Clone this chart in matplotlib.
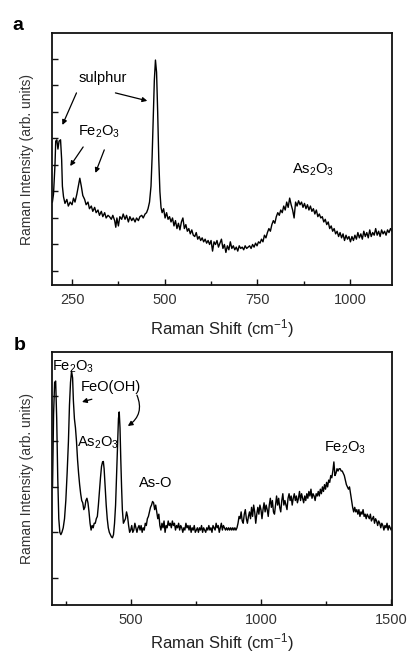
import matplotlib
matplotlib.use("Agg")
import matplotlib.pyplot as plt
from matplotlib.ticker import MultipleLocator, NullFormatter

plt.rcParams['font.family'] = ['Liberation Sans', 'DejaVu Sans']
plt.rcParams['mathtext.default'] = 'regular'

# panel a spectrum
shift_a = [197, 200, 204, 206, 209, 212, 215, 219, 222, 224,
           227, 231, 236, 240, 245, 250, 254, 258, 263, 267,
           271, 275, 279, 284, 288, 293, 297, 302, 306, 311,
           315, 320, 324, 329, 333, 338, 342, 347, 351, 356,
           360, 365, 368, 371, 375, 379, 384, 388, 393, 397,
           402, 406, 411, 415, 420, 424, 429, 433, 438, 442,
           447, 451, 455, 459, 463, 466, 469, 472, 475, 478,
           481, 484, 487, 490, 493, 497, 501, 505, 509, 513,
           517, 521, 525, 529, 533, 537, 541, 545, 549, 553,
           557, 561, 565, 569, 573, 577, 581, 585, 589, 593,
           597, 601, 605, 609, 613, 617, 621, 625, 629, 633,
           637, 641, 645, 649, 653, 657, 661, 665, 669, 673,
           677, 681, 685, 689, 693, 697, 701, 705, 709, 713,
           717, 721, 725, 729, 733, 737, 741, 745, 749, 753,
           757, 761, 765, 769, 773, 777, 781, 785, 789, 793,
           797, 801, 805, 809, 813, 817, 821, 825, 829, 833,
           837, 841, 845, 849, 853, 857, 861, 865, 869, 873,
           877, 881, 885, 889, 893, 897, 901, 905, 909, 913,
           917, 921, 925, 929, 933, 937, 941, 945, 949, 953,
           957, 961, 965, 969, 973, 977, 981, 985, 989, 993,
           997, 1001, 1005, 1009, 1013, 1017, 1021, 1025, 1029, 1033,
           1037, 1041, 1045, 1049, 1053, 1057, 1061, 1065, 1069, 1073,
           1077, 1081, 1085, 1089, 1093, 1097, 1101, 1105, 1109, 1113]
intensity_a = [3.6, 3.9, 5.0, 5.9, 5.95, 5.6, 5.9, 5.95, 5.2, 4.2,
               3.8, 3.55, 3.7, 3.45, 3.6, 3.5, 3.75, 3.6, 3.9, 4.2,
               4.5, 4.2, 3.85, 3.7, 3.5, 3.6, 3.35, 3.45, 3.25, 3.4,
               3.2, 3.3, 3.1, 3.25, 3.05, 3.2, 3.0, 3.1, 3.05, 2.95,
               3.1, 2.9, 2.65, 3.0, 2.7, 3.05, 2.95, 3.15, 2.95, 3.1,
               2.85, 3.05, 2.9, 3.0, 2.85, 3.0, 2.9, 3.05, 3.1, 3.0,
               3.15, 3.2, 3.35, 3.6, 4.2, 5.3, 6.8, 8.2, 8.96, 8.5,
               7.0, 5.2, 4.0, 3.4, 3.2, 3.35, 3.0, 3.2, 2.95, 3.05,
               2.85, 3.0, 2.7, 2.9, 2.6, 2.8, 2.55, 2.85, 3.0, 2.6,
               2.75, 2.5, 2.6, 2.4, 2.55, 2.35, 2.3, 2.45, 2.2, 2.3,
               2.15, 2.25, 2.1, 2.2, 2.05, 2.15, 2.0, 2.15, 1.75, 2.1,
               2.0, 2.15, 1.9, 2.05, 2.2, 1.85, 2.0, 1.7, 1.95, 1.8,
               2.1, 1.85, 1.95, 1.8, 1.9, 1.75, 1.95, 1.85, 1.9, 1.8,
               1.95, 1.85, 1.9, 1.95, 1.85, 2.0, 1.9, 2.05, 1.95, 2.1,
               2.05, 2.2, 2.1, 2.35, 2.25, 2.45, 2.6, 2.5, 2.75, 2.9,
               2.8, 3.05, 3.2, 3.1, 3.3, 3.2, 3.45, 3.3, 3.6, 3.4,
               3.75, 3.5, 3.3, 3.0, 3.6, 3.45, 3.65, 3.5, 3.6, 3.4,
               3.55, 3.35, 3.5, 3.3, 3.45, 3.25, 3.35, 3.15, 3.3, 3.05,
               3.15, 3.0, 3.05, 2.85, 2.95, 2.75, 2.85, 2.6, 2.7, 2.5,
               2.6, 2.4, 2.5, 2.3, 2.45, 2.25, 2.4, 2.15, 2.35, 2.2,
               2.3, 2.1, 2.3, 2.15, 2.35, 2.2, 2.45, 2.25, 2.4, 2.2,
               2.5, 2.3, 2.45, 2.25, 2.55, 2.3, 2.45, 2.35, 2.6, 2.35,
               2.5, 2.3, 2.55, 2.4, 2.5, 2.35, 2.55, 2.45, 2.6, 2.5]

# panel b spectrum
shift_b = [199, 203, 207, 211, 215, 219, 223, 227, 231, 235,
           240, 245, 250, 255, 260, 264, 268, 272, 276, 279,
           283, 287, 291, 295, 299, 303, 307, 311, 315, 319,
           323, 327, 331, 335, 339, 343, 347, 351, 355, 359,
           363, 367, 371, 375, 379, 383, 387, 391, 394, 397,
           401, 405, 409, 413, 417, 421, 425, 429, 433, 437,
           441, 445, 449, 452, 455, 458, 461, 464, 467, 471,
           475, 479, 483, 487, 491, 495, 499, 503, 507, 511,
           515, 519, 523, 527, 531, 535, 539, 543, 547, 551,
           555, 559, 563, 567, 571, 575, 579, 583, 587, 591,
           595, 599, 603, 607, 611, 615, 619, 623, 627, 631,
           635, 639, 643, 647, 651, 655, 659, 663, 667, 671,
           675, 679, 683, 687, 691, 695, 699, 703, 707, 711,
           715, 719, 723, 727, 731, 735, 739, 743, 747, 751,
           755, 759, 763, 767, 771, 775, 779, 783, 787, 791,
           795, 799, 803, 807, 811, 815, 819, 823, 827, 831,
           835, 839, 843, 847, 851, 855, 859, 863, 867, 871,
           875, 879, 883, 887, 891, 895, 899, 903, 907, 911,
           915, 919, 923, 927, 931, 935, 939, 943, 947, 951,
           955, 959, 963, 967, 971, 975, 979, 983, 987, 991,
           995, 999, 1003, 1007, 1011, 1015, 1019, 1023, 1027, 1031,
           1035, 1039, 1043, 1047, 1051, 1055, 1059, 1063, 1067, 1071,
           1075, 1079, 1083, 1087, 1091, 1095, 1099, 1103, 1107, 1111,
           1115, 1119, 1123, 1127, 1131, 1135, 1139, 1143, 1147, 1151,
           1155, 1159, 1163, 1167, 1171, 1175, 1179, 1183, 1187, 1191,
           1195, 1199, 1203, 1207, 1211, 1215, 1219, 1223, 1227, 1231,
           1235, 1239, 1243, 1247, 1251, 1255, 1259, 1263, 1267, 1271,
           1275, 1279, 1283, 1287, 1291, 1295, 1299, 1303, 1307, 1311,
           1315, 1319, 1323, 1327, 1331, 1335, 1339, 1343, 1347, 1351,
           1355, 1359, 1363, 1367, 1371, 1375, 1379, 1383, 1387, 1391,
           1395, 1399, 1403, 1407, 1411, 1415, 1419, 1423, 1427, 1431,
           1435, 1439, 1443, 1447, 1451, 1455, 1459, 1463, 1467, 1471,
           1475, 1479, 1483, 1487, 1491, 1495, 1499, 1502]
intensity_b = [3.0, 4.6, 5.3, 5.33, 4.5, 3.2, 2.3, 2.0, 1.95, 2.0,
               2.1, 2.3, 2.7, 3.3, 4.0, 4.8, 5.3, 5.55, 5.4, 4.9,
               4.5, 4.3, 4.0, 3.6, 3.3, 3.05, 2.85, 2.7, 2.65, 2.5,
               2.55, 2.7, 2.75, 2.65, 2.45, 2.2, 2.05, 2.15, 2.1, 2.2,
               2.2, 2.3, 2.35, 2.6, 2.9, 3.2, 3.45, 3.55, 3.56, 3.4,
               3.0, 2.6, 2.3, 2.1, 2.0, 1.95, 1.9, 1.88, 1.95, 2.2,
               2.6, 3.3, 4.0, 4.5, 4.65, 4.3, 3.6, 3.0, 2.5, 2.2,
               2.25, 2.3, 2.45, 2.35, 2.15, 2.0, 2.05, 2.15, 2.0, 2.05,
               2.2, 2.1, 2.0, 2.1, 2.15, 2.05, 2.15, 2.0, 2.1, 2.05,
               2.2, 2.15, 2.3, 2.35, 2.45, 2.55, 2.6, 2.68, 2.65, 2.5,
               2.6, 2.45, 2.3, 2.4, 2.15, 2.05, 2.2, 2.1, 2.25, 2.0,
               2.15, 2.1, 2.25, 2.15, 2.2, 2.1, 2.25, 2.15, 2.2, 2.05,
               2.15, 2.1, 2.2, 2.05, 2.15, 2.1, 2.0, 2.1, 2.05, 2.2,
               2.1, 2.15, 2.05, 2.15, 2.0, 2.1, 2.05, 2.15, 2.0, 2.05,
               2.1, 2.0, 2.1, 2.05, 2.15, 2.0, 2.1, 2.05, 2.0, 2.1,
               2.05, 2.15, 2.05, 2.1, 2.0, 2.15, 2.1, 2.05, 2.2, 2.1,
               2.15, 2.0, 2.1, 2.2, 2.05, 2.15, 2.1, 2.05, 2.1, 2.05,
               2.1, 2.05, 2.1, 2.05, 2.1, 2.05, 2.1, 2.05, 2.1, 2.2,
               2.35, 2.3, 2.45, 2.25, 2.2, 2.4, 2.5, 2.3, 2.2, 2.35,
               2.45, 2.3, 2.55, 2.35, 2.6, 2.45, 2.2, 2.4, 2.55, 2.4,
               2.6, 2.5, 2.3, 2.5, 2.65, 2.45, 2.6, 2.5, 2.35, 2.6,
               2.75, 2.55, 2.7, 2.45, 2.4, 2.6, 2.8, 2.6, 2.75, 2.55,
               2.45, 2.7, 2.85, 2.6, 2.7, 2.6, 2.5, 2.75, 2.85, 2.7,
               2.8, 2.6, 2.75, 2.85, 2.7, 2.8, 2.65, 2.75, 2.9, 2.7,
               2.85, 2.75, 2.65, 2.8, 2.7, 2.85, 2.75, 2.9, 2.8, 2.95,
               2.75, 2.85, 2.8, 2.7, 2.85, 2.8, 2.9, 2.8, 2.95, 2.85,
               3.0, 2.9, 3.05, 2.95, 3.1, 3.0, 3.15, 3.1, 3.25, 3.2,
               3.35, 3.55, 3.25, 3.3, 3.4, 3.35, 3.4, 3.4, 3.35, 3.35,
               3.3, 3.25, 3.15, 3.05, 3.0, 2.95, 3.0, 2.85, 2.7, 2.55,
               2.45, 2.55, 2.45, 2.5, 2.4, 2.5, 2.35, 2.45, 2.4, 2.5,
               2.35, 2.4, 2.3, 2.4, 2.35, 2.3, 2.4, 2.25, 2.3, 2.35,
               2.2, 2.3, 2.25, 2.15, 2.25, 2.2, 2.1, 2.2, 2.15, 2.05,
               2.15, 2.1, 2.2, 2.05, 2.15, 2.1, 2.05, 2.1]

xticks_a = [250, 500, 750, 1000]
xticks_b = [500, 1000, 1500]

fig = plt.figure(figsize=(4.07, 6.59), dpi=100)
ax_a = fig.add_axes([0.1278, 0.5675, 0.8353, 0.3824])
ax_b = fig.add_axes([0.1278, 0.0819, 0.8353, 0.3840])

ink = '#222222'
for ax in (ax_a, ax_b):
    for s in ax.spines.values():
        s.set_linewidth(1.3)
        s.set_color('#111111')
    ax.tick_params(which='both', direction='in', top=False, right=False,
                   width=1, colors='#111111', labelcolor='#333333')
    ax.tick_params(which='major', length=4, labelsize=10.5, pad=6)
    ax.tick_params(which='minor', length=3)
    ax.yaxis.set_major_formatter(NullFormatter())
    ax.set_xlabel('Raman Shift (cm$^{-1}$)', fontsize=12, color=ink)
    ax.set_ylabel('Raman Intensity (arb. units)', fontsize=10, color='#333333')
    ax.yaxis.set_label_coords(-0.0735, 0.5)
    ax.yaxis.label.set_verticalalignment('center')
    ax.xaxis.label.set_verticalalignment('center')

# panel a
ax_a.plot(shift_a, intensity_a, color='black', lw=1.0)
ax_a.set_xlim(196, 1113)
ax_a.set_ylim(0.47, 9.98)
ax_a.set_xticks(xticks_a)
ax_a.xaxis.set_minor_locator(MultipleLocator(125))
ax_a.set_yticks(range(1, 10))
ax_a.xaxis.set_label_coords(0.5, -0.171)

arrow = dict(arrowstyle='-|>', color='black', lw=0.9, mutation_scale=7,
             shrinkA=0, shrinkB=0)
ax_a.text(334, 8.28, 'sulphur', fontsize=10.5, ha='center', va='center')
ax_a.annotate('', xy=(224, 6.51), xytext=(262, 7.72), arrowprops=arrow)
ax_a.annotate('', xy=(453, 7.42), xytext=(367, 7.72), arrowprops=arrow)
ax_a.text(324, 6.25, 'Fe$_2$O$_3$', fontsize=10.5, ha='center', va='center')
ax_a.annotate('', xy=(245, 4.96), xytext=(280, 5.68), arrowprops=arrow)
ax_a.annotate('', xy=(313, 4.70), xytext=(337, 5.57), arrowprops=arrow)
ax_a.text(900, 4.81, 'As$_2$O$_3$', fontsize=10.5, ha='center', va='center')

# panel b
ax_b.plot(shift_b, intensity_b, color='black', lw=1.0)
ax_b.set_xlim(197, 1502)
ax_b.set_ylim(0.40, 5.97)
ax_b.set_xticks(xticks_b)
ax_b.xaxis.set_minor_locator(MultipleLocator(250))
ax_b.set_yticks(range(1, 6))
ax_b.xaxis.set_label_coords(0.5, -0.150)

ax_b.text(277, 5.64, 'Fe$_2$O$_3$', fontsize=10.5, ha='center', va='center')
ax_b.text(423, 5.20, 'FeO(OH)', fontsize=10.5, ha='center', va='center')
ax_b.annotate('', xy=(312, 4.87), xytext=(350, 4.93), arrowprops=arrow)
ax_b.annotate('', xy=(488, 4.34), xytext=(523, 5.02),
              arrowprops=dict(arrow, connectionstyle='arc3,rad=-0.4'))
ax_b.text(374, 3.96, 'As$_2$O$_3$', fontsize=10.5, ha='center', va='center')
ax_b.text(596, 3.08, 'As-O', fontsize=10.5, ha='center', va='center')
ax_b.text(1323, 3.87, 'Fe$_2$O$_3$', fontsize=10.5, ha='center', va='center')

fig.text(0.044, 0.962, 'a', fontsize=14, fontweight='bold', ha='center', va='center')
fig.text(0.049, 0.476, 'b', fontsize=14, fontweight='bold', ha='center', va='center')

fig.savefig('out.png', dpi=100)
